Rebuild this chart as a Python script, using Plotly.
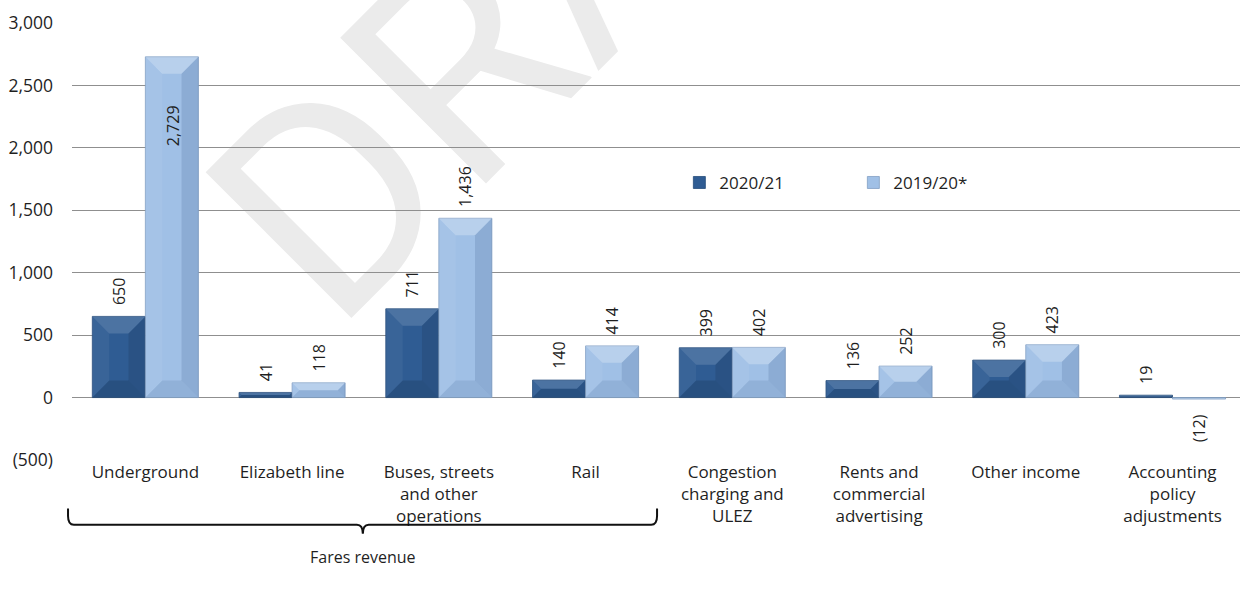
import plotly.graph_objects as go

# Income by source, £m
categories = [
    "Underground",
    "Elizabeth line",
    "Buses, streets<br>and other<br>operations",
    "Rail",
    "Congestion<br>charging and<br>ULEZ",
    "Rents and<br>commercial<br>advertising",
    "Other income",
    "Accounting<br>policy<br>adjustments",
]
values_2021 = [650, 41, 711, 140, 399, 136, 300, 19]
values_2020 = [2729, 118, 1436, 414, 402, 252, 423, -12]
series_names = ["2020/21", "2019/20*"]

tick_vals = [-500, 0, 500, 1000, 1500, 2000, 2500, 3000]
tick_text = ["(500)", "0", "500", "1,000", "1,500", "2,000", "2,500", "3,000"]

FONT = "Open Sans"
TEXT = "#1f1f1f"
BARGAP = 0.277
HALF = (1 - BARGAP) / 2
PAD = "\u00a0\u00a0"  # keeps value labels clear of the bar ends


def fmt(v):
    return f"({abs(v):,})" if v < 0 else f"{v:,}"


def bar_label(v):
    return PAD + fmt(v) if v >= 0 else fmt(v) + PAD + "\u00a0"


# Labels that sit inside the bar instead of above it
inside_2020 = [v >= 2500 for v in values_2020]

fig = go.Figure()
fig.add_trace(go.Bar(
    name=series_names[0], x=categories, y=values_2021,
    marker=dict(color="#2f5c93", line=dict(color="#264c7b", width=0.8)),
    text=[bar_label(v) for v in values_2021], textposition="outside",
    textangle=-90, textfont=dict(family=FONT, size=16, color=TEXT),
    cliponaxis=False,
))
fig.add_trace(go.Bar(
    name=series_names[1], x=categories, y=values_2020,
    marker=dict(color="#a0c0e6", line=dict(color="#839fc4", width=0.8)),
    text=["" if ins else bar_label(v) for v, ins in zip(values_2020, inside_2020)],
    textposition="outside",
    textangle=-90, textfont=dict(family=FONT, size=16, color=TEXT),
    cliponaxis=False,
))

annotations = []
for cat, v, ins in zip(categories, values_2020, inside_2020):
    if ins:
        annotations.append(dict(
            x=cat, y=v, xref="x", yref="y", text=fmt(v), showarrow=False,
            textangle=-90, xshift=27, yshift=-69, yanchor="middle",
            font=dict(family=FONT, size=16, color=TEXT),
        ))

# Bevelled edges on each bar, built from the bar values
shapes = []
DX, DY = 0.115, 136.0
bevels = {
    0: ["rgba(255,255,255,0.14)", "rgba(0,0,0,0.13)", "rgba(255,255,255,0.05)", "rgba(0,0,0,0.10)"],
    1: ["rgba(255,255,255,0.26)", "rgba(0,30,80,0.09)", "rgba(255,255,255,0.06)", "rgba(0,30,80,0.12)"],
}
for s, vals in enumerate([values_2021, values_2020]):
    top_c, bot_c, left_c, right_c = bevels[s]
    for i, v in enumerate(vals):
        if v == 0:
            continue
        x0 = i - HALF if s == 0 else i
        x1 = x0 + HALF
        k = min(1.0, abs(v) / (2 * DY))
        dx, dy = DX * k, DY * k * (1 if v > 0 else -1)
        polys = [
            ([(x0, v), (x1, v), (x1 - dx, v - dy), (x0 + dx, v - dy)], top_c),
            ([(x0, 0), (x1, 0), (x1 - dx, dy), (x0 + dx, dy)], bot_c),
            ([(x0, 0), (x0, v), (x0 + dx, v - dy), (x0 + dx, dy)], left_c),
            ([(x1, 0), (x1, v), (x1 - dx, v - dy), (x1 - dx, dy)], right_c),
        ]
        for pts, col in polys:
            path = "M " + " L ".join(f"{px},{py}" for px, py in pts) + " Z"
            shapes.append(dict(type="path", xref="x", yref="y", path=path,
                               fillcolor=col, line=dict(width=0), layer="above"))

# Watermark behind the grid
shapes.append(dict(
    type="rect", xref="paper", yref="paper",
    x0=0.4218, x1=0.4238, y0=1.203, y1=1.205,
    line=dict(width=0), fillcolor="rgba(0,0,0,0)", layer="below",
    label=dict(text="DRAFT", textangle=-45, textposition="middle center",
               font=dict(family="Roboto", size=290, color="#ebebeb")),
))

# Brace grouping the fares categories
bx0, bx1, bxc = -0.0034, 0.5009, 0.249
ytop, yline, ytip = -0.111, -0.148, -0.169
rx, ry = 0.005, 0.02
brace = (
    f"M {bx0},{ytop} L {bx0},{yline + ry} Q {bx0},{yline} {bx0 + rx},{yline} "
    f"L {bxc - rx},{yline} Q {bxc},{yline} {bxc},{ytip} "
    f"Q {bxc},{yline} {bxc + rx},{yline} L {bx1 - rx},{yline} "
    f"Q {bx1},{yline} {bx1},{yline + ry} L {bx1},{ytop}"
)
shapes.append(dict(type="path", xref="paper", yref="paper", path=brace,
                   line=dict(color="#111111", width=2)))
annotations.append(dict(
    x=bxc, y=-0.223, xref="paper", yref="paper", text="Fares revenue",
    showarrow=False, xanchor="center", yanchor="middle",
    font=dict(family=FONT, size=16, color=TEXT),
))

fig.update_layout(
    width=1240, height=592,
    margin=dict(l=72, r=0, t=23, b=132),
    paper_bgcolor="white", plot_bgcolor="rgba(0,0,0,0)",
    barmode="group", bargap=BARGAP, bargroupgap=0,
    font=dict(family=FONT, color=TEXT),
    shapes=shapes, annotations=annotations,
    showlegend=True,
    legend=dict(
        orientation="h", x=0.52, y=0.634, xanchor="left", yanchor="middle",
        font=dict(family=FONT, size=17, color=TEXT),
        bgcolor="rgba(0,0,0,0)", entrywidth=129, entrywidthmode="pixels",
    ),
    xaxis=dict(
        type="category", range=[-0.5, 7.46], showgrid=False, zeroline=False,
        showline=False, ticks="", tickfont=dict(family=FONT, size=17, color=TEXT),
        tickangle=0,
    ),
    yaxis=dict(
        range=[-500, 3000], tickvals=tick_vals, ticktext=tick_text,
        showgrid=True, gridcolor="#8f8f8f", gridwidth=1.2,
        zeroline=True, zerolinecolor="#8f8f8f", zerolinewidth=1.2,
        showline=False, ticks="", ticklabelstandoff=18,
        tickfont=dict(family=FONT, size=17.5, color=TEXT),
    ),
)

fig.write_html("out.html")
